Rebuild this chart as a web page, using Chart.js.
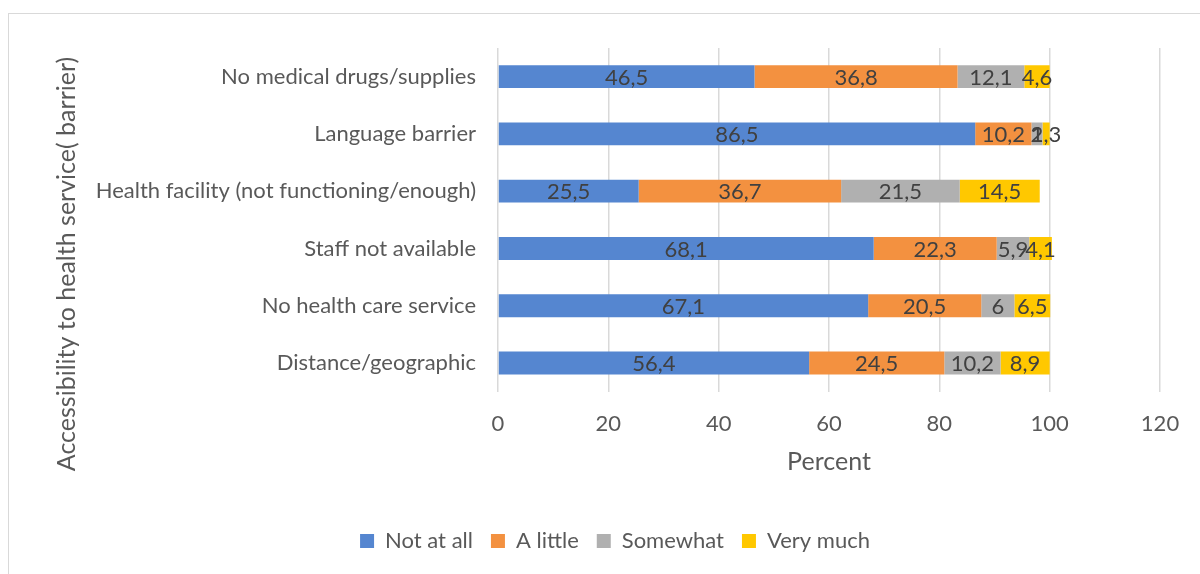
<!DOCTYPE html>
<html>
<head>
<meta charset="utf-8">
<script src="https://cdn.jsdelivr.net/npm/chart.js@4"></script>
<style>
  body { margin: 0; background: #fff; }
  #frame { position: absolute; left: 8px; top: 13px; width: 1200px; height: 580px; border: 1px solid #d9d9d9; box-sizing: border-box; }
  #chart { position: absolute; left: 0; top: 0; }
</style>
</head>
<body>
<div id="frame"></div>
<canvas id="chart" width="1200" height="574"></canvas>
<script>
const barriers = [
  'No medical drugs/supplies',
  'Language barrier',
  'Health facility (not functioning/enough)',
  'Staff not available',
  'No health care service',
  'Distance/geographic'
]
const notAtAll = [46.5, 86.5, 25.5, 68.1, 67.1, 56.4]
const aLittle = [36.8, 10.2, 36.7, 22.3, 20.5, 24.5]
const somewhat = [12.1, 2, 21.5, 5.9, 6, 10.2]
const veryMuch = [4.6, 1.3, 14.5, 4.1, 6.5, 8.9]
const xTicks = [0, 20, 40, 60, 80, 100, 120]

const FONT = 'Lato'
const GREY_TEXT = '#595959'
const LEFT_PAD = 70

// writes each segment's value in the middle of its bar
const barValues = {
  id: 'barValues',
  afterDatasetsDraw (chart) {
    const ctx = chart.ctx
    ctx.save()
    ctx.font = `22px ${FONT}`
    ctx.fillStyle = '#404040'
    ctx.textAlign = 'center'
    ctx.textBaseline = 'middle'
    chart.data.datasets.forEach((ds, i) => {
      chart.getDatasetMeta(i).data.forEach((bar, j) => {
        const text = String(ds.data[j]).replace('.', ',')
        ctx.fillText(text, (bar.x + bar.base) / 2, bar.y + 1)
      })
    })
    ctx.restore()
  }
}

// vertical axis title, placed by hand
const yTitle = {
  id: 'yTitle',
  afterDraw (chart) {
    const ctx = chart.ctx
    ctx.save()
    ctx.translate(67, 264)
    ctx.rotate(-Math.PI / 2)
    ctx.font = `25px ${FONT}`
    ctx.fillStyle = GREY_TEXT
    ctx.textAlign = 'center'
    ctx.textBaseline = 'middle'
    ctx.fillText('Accessibility to health service( barrier)', 0, 0)
    ctx.restore()
  }
}

const makeSet = (label, data, color) => ({
  label,
  data,
  backgroundColor: color,
  borderWidth: 0,
  categoryPercentage: 1,
  barPercentage: 0.4
})

const chart = new Chart(document.querySelector('#chart').getContext('2d'), {
  type: 'bar',
  data: {
    labels: barriers,
    datasets: [
      makeSet('Not at all', notAtAll, '#5586d0'),
      makeSet('A little', aLittle, '#f39140'),
      makeSet('Somewhat', somewhat, '#b0b0b0'),
      makeSet('Very much', veryMuch, '#ffc800')
    ]
  },
  options: {
    indexAxis: 'y',
    responsive: false,
    animation: false,
    layout: { padding: { top: 48, right: 40, bottom: 12, left: LEFT_PAD } },
    plugins: {
      tooltip: { enabled: false },
      legend: {
        position: 'bottom',
        labels: {
          boxWidth: 14,
          boxHeight: 14,
          padding: 18,
          color: GREY_TEXT,
          font: { family: FONT, size: 22 }
        }
      }
    },
    scales: {
      x: {
        stacked: true,
        min: 0,
        max: 120,
        afterBuildTicks: scale => { scale.ticks = xTicks.map(value => ({ value })) },
        ticks: { padding: 19, color: GREY_TEXT, font: { family: FONT, size: 22 } },
        grid: { color: '#d9d9d9', lineWidth: 1.5, drawTicks: false },
        border: { display: false },
        title: {
          display: true,
          text: 'Percent',
          color: GREY_TEXT,
          font: { family: FONT, size: 25 },
          padding: { top: -9, bottom: 35 }
        }
      },
      y: {
        stacked: true,
        afterFit: scale => { scale.width = 498 - LEFT_PAD },
        ticks: { padding: 22, color: GREY_TEXT, font: { family: FONT, size: 22 } },
        grid: { display: false, drawTicks: false },
        border: { display: false }
      }
    }
  },
  plugins: [barValues, yTitle]
})
</script>
</body>
</html>
